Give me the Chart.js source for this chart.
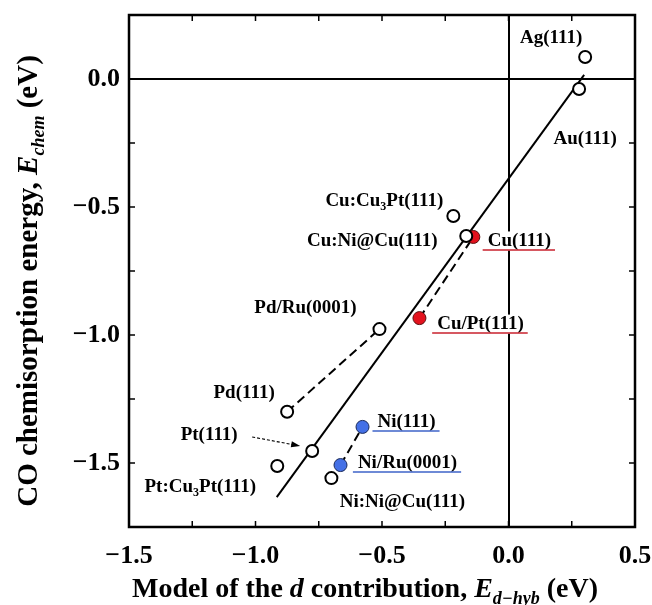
<!DOCTYPE html>
<html>
<head>
<meta charset="utf-8">
<script src="https://cdn.jsdelivr.net/npm/chart.js@4.4.1/dist/chart.umd.min.js"></script>
<style>
  html, body { margin: 0; padding: 0; background: #fff; }
  canvas { display: block; }
</style>
</head>
<body>
<canvas id="grafico" width="652" height="605"></canvas>
<script>
// valori (eV)
const openNames = ['Ag(111)', 'Au(111)', 'Cu:Cu3Pt(111)', 'Cu:Ni@Cu(111)', 'Pd/Ru(0001)', 'Pd(111)', 'Pt(111)', 'Pt:Cu3Pt(111)', 'Ni:Ni@Cu(111)'];
const openX = [0.303, 0.279, -0.218, -0.167, -0.510, -0.875, -0.776, -0.914, -0.700];
const openY = [0.086, -0.039, -0.535, -0.613, -0.977, -1.300, -1.453, -1.512, -1.559];

const cuNames = ['Cu(111)', 'Cu/Pt(111)'];
const cuX = [-0.139, -0.352];
const cuY = [-0.617, -0.934];

const niNames = ['Ni(111)', 'Ni/Ru(0001)'];
const niX = [-0.577, -0.664];
const niY = [-1.359, -1.508];

// retta di regressione e coppie tratteggiate
const fitX = [-0.916, 0.299];
const fitY = [-1.633, 0.016];
const pdPairX = [-0.875, -0.510];
const pdPairY = [-1.300, -0.977];
const cuPairX = [-0.352, -0.139];
const cuPairY = [-0.934, -0.617];
const niPairX = [-0.664, -0.577];
const niPairY = [-1.508, -1.359];

// assi
const xMajor = [-1.5, -1.0, -0.5, 0.0, 0.5];
const xTickLabels = ['\u22121.5', '\u22121.0', '\u22120.5', '0.0', '0.5'];
const xMinor = [-1.25, -0.75, -0.25, 0.25];
const yMajor = [0.0, -0.5, -1.0, -1.5];
const yTickLabels = ['0.0', '\u22120.5', '\u22121.0', '\u22121.5'];
const yMinor = [-0.25, -0.75, -1.25];

// posizione delle etichette rispetto al punto (px) e sottolineatura
const labelLayout = {
    'Ag(111)': [-34, -19],
    'Au(111)': [6, 50],
    'Cu:Cu3Pt(111)': [-69, -15],
    'Cu:Ni@Cu(111)': [-94, 5],
    'Cu(111)': [46, 4, '#c8202c'],
    'Pd/Ru(0001)': [-74, -21],
    'Cu/Pt(111)': [61, 6, '#c8202c'],
    'Pd(111)': [-43, -19],
    'Pt(111)': [-103, -16],
    'Pt:Cu3Pt(111)': [-77, 21],
    'Ni(111)': [44, -5, '#3e63c8'],
    'Ni/Ru(0001)': [67, -2, '#3e63c8'],
    'Ni:Ni@Cu(111)': [71, 24]
};

const FONT = '"Liberation Serif", "Times New Roman", serif';
const toPts = (xs, ys) => xs.map((x, i) => ({ x: x, y: ys[i] }));

function segsForName(name) {
    const m = name.match(/^(.*Cu)3(Pt.*)$/);
    if (!m) return [{ t: name }];
    return [{ t: m[1] }, { t: '3', sub: true }, { t: m[2] }];
}

function fontOf(seg, size, subSize) {
    return (seg.it ? 'italic ' : '') + 'bold ' + (seg.sub ? subSize : size) + 'px ' + FONT;
}

function richWidth(ctx, segs, size, subSize) {
    let w = 0;
    segs.forEach(s => { ctx.font = fontOf(s, size, subSize); w += ctx.measureText(s.t).width; });
    return w;
}

function drawRich(ctx, segs, x, y, size, subSize, drop, align, bg) {
    const w = richWidth(ctx, segs, size, subSize);
    let cx = align === 'center' ? x - w / 2 : x;
    if (bg) {
        const fs = ctx.fillStyle;
        ctx.fillStyle = '#fff';
        ctx.fillRect(cx - 1, y - size * 0.5, w + 2, size);
        ctx.fillStyle = fs;
    }
    ctx.textAlign = 'left';
    segs.forEach(s => {
        ctx.font = fontOf(s, size, subSize);
        ctx.fillText(s.t, cx, y + (s.sub ? drop : 0));
        cx += ctx.measureText(s.t).width;
    });
    return { left: x - w / 2, right: x + w / 2 };
}

const xTitle = [{ t: 'Model of the ' }, { t: 'd', it: true }, { t: ' contribution, ' }, { t: 'E', it: true }, { t: 'd\u2212hyb', it: true, sub: true }, { t: ' (eV)' }];
const yTitle = [{ t: 'CO chemisorption energy, ' }, { t: 'E', it: true }, { t: 'chem', it: true, sub: true }, { t: ' (eV)' }];

const decorazioni = {
    id: 'decorazioni',
    afterDraw(chart) {
        const ctx = chart.ctx;
        const a = chart.chartArea;
        const xs = chart.scales.x, ys = chart.scales.y;
        ctx.save();

        // cornice
        ctx.strokeStyle = '#000';
        ctx.lineWidth = 2.5;
        ctx.strokeRect(a.left, a.top, a.right - a.left, a.bottom - a.top);

        // tacche verso l'interno su tutti i lati
        ctx.lineWidth = 1.5;
        const tl = 6;
        xMajor.concat(xMinor).forEach(v => {
            const px = xs.getPixelForValue(v);
            ctx.beginPath();
            ctx.moveTo(px, a.bottom); ctx.lineTo(px, a.bottom - tl);
            ctx.moveTo(px, a.top); ctx.lineTo(px, a.top + tl);
            ctx.stroke();
        });
        yMajor.concat(yMinor).forEach(v => {
            const py = ys.getPixelForValue(v);
            ctx.beginPath();
            ctx.moveTo(a.left, py); ctx.lineTo(a.left + tl, py);
            ctx.moveTo(a.right, py); ctx.lineTo(a.right - tl, py);
            ctx.stroke();
        });

        // etichette dei punti (sfondo bianco sopra le linee dello zero)
        ctx.fillStyle = '#000';
        ctx.textBaseline = 'middle';
        const allNames = openNames.concat(cuNames, niNames);
        const allX = openX.concat(cuX, niX);
        const allY = openY.concat(cuY, niY);
        allNames.forEach((name, i) => {
            const lay = labelLayout[name];
            const px = xs.getPixelForValue(allX[i]) + lay[0];
            const py = ys.getPixelForValue(allY[i]) + lay[1];
            const ext = drawRich(ctx, segsForName(name), px, py, 19, 12, 6, 'center', true);
            if (lay[2]) {
                ctx.strokeStyle = lay[2];
                ctx.lineWidth = 1.5;
                ctx.beginPath();
                ctx.moveTo(ext.left - 5, py + 9);
                ctx.lineTo(ext.right + 4, py + 9);
                ctx.stroke();
            }
        });

        // freccia per Pt(111)
        const ip = openNames.indexOf('Pt(111)');
        const ptx = xs.getPixelForValue(openX[ip]), pty = ys.getPixelForValue(openY[ip]);
        const x0 = ptx - 60, y0 = pty - 14, x1 = ptx - 12, y1 = pty - 5;
        ctx.strokeStyle = '#000';
        ctx.lineWidth = 1.1;
        ctx.setLineDash([3, 2]);
        ctx.beginPath(); ctx.moveTo(x0, y0); ctx.lineTo(x1 - 6, y1 - 1.1); ctx.stroke();
        ctx.setLineDash([]);
        const ang = Math.atan2(y1 - y0, x1 - x0);
        ctx.beginPath();
        ctx.moveTo(x1, y1);
        ctx.lineTo(x1 - 9 * Math.cos(ang) + 3 * Math.sin(ang), y1 - 9 * Math.sin(ang) - 3 * Math.cos(ang));
        ctx.lineTo(x1 - 9 * Math.cos(ang) - 3 * Math.sin(ang), y1 - 9 * Math.sin(ang) + 3 * Math.cos(ang));
        ctx.closePath();
        ctx.fill();

        // titoli degli assi
        ctx.textBaseline = 'alphabetic';
        drawRich(ctx, xTitle, 365, 597, 28, 18, 7, 'center');
        ctx.translate(37, 281);
        ctx.rotate(-Math.PI / 2);
        drawRich(ctx, yTitle, 0, 0, 29, 18, 7, 'center');
        ctx.restore();
    }
};

const zeroGrid = {
    display: true,
    drawTicks: false,
    lineWidth: 2,
    color: c => (c.tick && c.tick.value === 0) ? '#000' : 'rgba(0,0,0,0)'
};

// niente margini automatici per le etichette agli estremi
function noPad(s) {
    s.paddingTop = 0; s.paddingBottom = 0; s.paddingLeft = 0; s.paddingRight = 0;
}

new Chart(document.getElementById('grafico'), {
    type: 'scatter',
    data: {
        datasets: [
            { data: toPts(openX, openY), pointRadius: 6, pointBackgroundColor: '#fff', pointBorderColor: '#000', pointBorderWidth: 2 },
            { data: toPts(cuX, cuY), pointRadius: 6.5, pointBackgroundColor: '#e3121e', pointBorderColor: '#5a1010', pointBorderWidth: 1 },
            { data: toPts(niX, niY), pointRadius: 6.5, pointBackgroundColor: '#4470e6', pointBorderColor: '#1a2a5a', pointBorderWidth: 1 },
            { data: toPts(fitX, fitY), showLine: true, pointRadius: 0, borderColor: '#000', borderWidth: 2 },
            { data: toPts(pdPairX, pdPairY), showLine: true, pointRadius: 0, borderColor: '#000', borderWidth: 2, borderDash: [9, 5] },
            { data: toPts(cuPairX, cuPairY), showLine: true, pointRadius: 0, borderColor: '#000', borderWidth: 2, borderDash: [9, 5] },
            { data: toPts(niPairX, niPairY), showLine: true, pointRadius: 0, borderColor: '#000', borderWidth: 2, borderDash: [9, 5] }
        ]
    },
    options: {
        responsive: false,
        animation: false,
        layout: { padding: { top: 15, right: 17, left: 0, bottom: 0 } },
        plugins: { legend: { display: false }, tooltip: { enabled: false } },
        scales: {
            x: {
                type: 'linear', min: -1.5, max: 0.5,
                afterBuildTicks: s => { s.ticks = xMajor.map(v => ({ value: v })); },
                afterFit: s => { s.height = 78; noPad(s); },
                grid: zeroGrid,
                border: { display: false },
                ticks: {
                    padding: 14, color: '#000',
                    font: { family: FONT, size: 26, weight: 'bold' },
                    callback: (v, i) => xTickLabels[i]
                }
            },
            y: {
                type: 'linear', min: -1.75, max: 0.25,
                afterBuildTicks: s => { s.ticks = yMajor.map(v => ({ value: v })); },
                afterFit: s => { s.width = 129; noPad(s); },
                grid: zeroGrid,
                border: { display: false },
                ticks: {
                    padding: 9, color: '#000',
                    font: { family: FONT, size: 26, weight: 'bold' },
                    callback: (v, i) => yTickLabels[i]
                }
            }
        }
    },
    plugins: [decorazioni]
});
</script>
</body>
</html>
